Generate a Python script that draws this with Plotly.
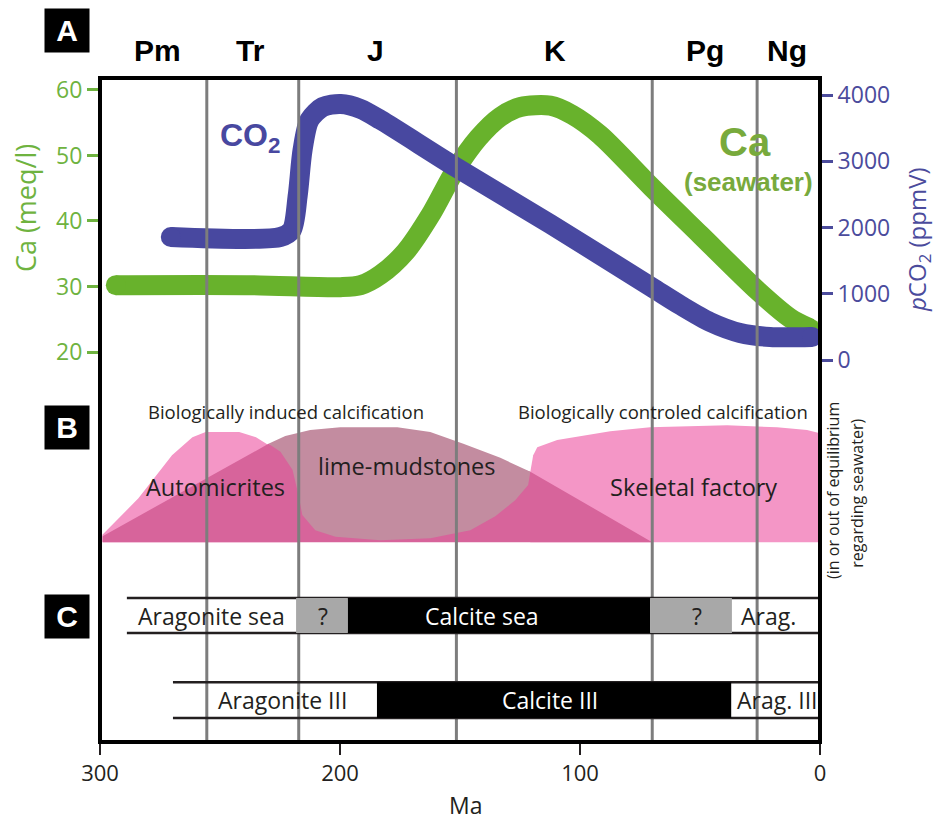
import plotly.graph_objects as go

# ---------------- data ----------------
# geological period boundaries (Ma) and period labels
boundaries_ma = [255.5, 217.2, 151.5, 69.9, 26.2]
period_labels = ["Pm", "Tr", "J", "K", "Pg", "Ng"]
period_label_ma = [276.0, 237.2, 185.2, 110.3, 47.9, 13.7]

# Panel A: seawater Ca (meq/l)
ca_age = [293.4, 237.2, 199.8, 191.4, 183.1, 172.7, 162.3, 151.9, 142.3, 133.2,
          124.8, 112.4, 103.2, 91.6, 70.3, 49.9, 25.8, 12.5, 4.2]
ca_val = [30.2, 30.2, 29.9, 30.2, 31.8, 35.3, 40.9, 47.8, 52.7, 55.9,
          57.4, 57.6, 56.2, 53.1, 45.2, 37.9, 29.3, 25.2, 23.6]

# Panel A: pCO2 (ppmV)
co2_age = [270.5, 224.7, 220.1, 217.6, 215.6, 212.7, 207.2, 199.7, 191.4, 183.1,
           151.9, 112.4, 70.3, 58.3, 45.8, 33.3, 20.8, 3.3]
co2_val = [1857, 1857, 1962, 2490, 3170, 3623, 3819, 3864, 3789, 3623,
           2913, 2053, 1102, 830, 574, 408, 347, 347]

# Panel B: calcification domains (age Ma, relative extent)
auto_age = [299, 299, 284, 270, 261.5, 256, 242, 235, 228, 223.5, 220, 218.5, 217.5, 217.5]
auto_lvl = [30.1, 31.2, 36.7, 43.2, 45.9, 46.7, 46.7, 45.9, 44.3, 41.7, 38.3, 34.2, 30.7, 30.1]

skel_age = [120.7, 120.7, 119.5, 117.8, 109.5, 99.9, 87.4, 70.8, 38.7, 17.9, 5.4, 0, 0]
skel_lvl = [30.1, 40.7, 43.2, 44.4, 45.5, 46.1, 46.8, 47.4, 47.7, 47.4, 47.0, 46.5, 30.1]

induced_age = [298.9, 298.9, 229.8, 220.7, 208.2, 149.9, 120.7, 69.9]
induced_lvl = [30.1, 31.0, 44.9, 43.7, 45.2, 44.0, 40.7, 30.1]

mud_age = [229.8, 222.8, 212.4, 199.9, 176.1, 162.4, 148.6, 133.2, 120.7, 121.6, 127.0,
           135.3, 145.7, 162.4, 183.2, 201.9, 210.3, 215.7, 217.3, 219.8, 224.8]
mud_lvl = [44.9, 46.1, 47.0, 47.4, 47.4, 46.7, 44.9, 42.8, 40.7, 38.7, 36.4,
           34.0, 31.9, 30.7, 30.4, 30.9, 31.9, 34.2, 37.2, 41.0, 43.7]

# Panel C: sea chemistry rows (segment edges in Ma)
sea_edges = [288.8, 218.3, 196.7, 70.8, 36.7, 0]
sea_kind = ["arag", "unknown", "calcite", "unknown", "arag"]
sea_text = ["Aragonite sea", "?", "Calcite sea", "?", "Arag."]
sea_text_ma = [253.5, 207.2, 141.0, 51.2, 21.6]

iii_edges = [269.6, 184.6, 37.0, 0]
iii_kind = ["arag", "calcite", "arag"]
iii_text = ["Aragonite III", "Calcite III", "Arag. III"]
iii_text_ma = [224.0, 112.4, 17.9]

row_levels = {"sea": (16.4, 21.7), "iii": (3.6, 9.0)}

# ---------------- styles ----------------
GREEN = "#68b22c"
GREEN_TXT = "#6fb33f"
GREEN_LBL = "#78aa3c"
BLUE = "#4848a0"
BLUE_TXT = "#4b4b9c"
LIGHT_PINK = "#f496c6"
DARK_PINK = "#d7649b"
MAUVE = "#c38ca0"
GRID_GRAY = "#7d7d7d"
BOX_GRAY = "#a8a8a8"
INK = "#231f20"
SANS = "Open Sans, sans-serif"
BOLD = "Liberation Sans, Arial, sans-serif"

fig = go.Figure()

def poly(xs, ys, color):
    fig.add_trace(go.Scatter(x=xs, y=ys, yaxis="y3", mode="lines", fill="toself",
                             fillcolor=color, line=dict(width=0, color=color),
                             hoverinfo="skip"))

# Panel B shapes
poly(auto_age, auto_lvl, LIGHT_PINK)
poly(skel_age, skel_lvl, LIGHT_PINK)
poly(induced_age, induced_lvl, DARK_PINK)
poly(mud_age, mud_lvl, MAUVE)

# vertical period boundary lines
vx, vy = [], []
for b in boundaries_ma:
    vx += [b, b, None]
    vy += [0, 100, None]
fig.add_trace(go.Scatter(x=vx, y=vy, yaxis="y3", mode="lines",
                         line=dict(color=GRID_GRAY, width=3), hoverinfo="skip"))

# Panel C rows
def row(edges, kinds, lv):
    lo, hi = lv
    fig.add_trace(go.Scatter(x=[edges[0], edges[-1], None, edges[0], edges[-1]],
                             y=[hi, hi, None, lo, lo], yaxis="y3", mode="lines",
                             line=dict(color=INK, width=2.5), hoverinfo="skip"))
    for i, k in enumerate(kinds):
        if k == "arag":
            continue
        c = "#000000" if k == "calcite" else BOX_GRAY
        a, b = edges[i], edges[i + 1]
        fig.add_trace(go.Scatter(x=[a, b, b, a, a], y=[lo, lo, hi, hi, lo], yaxis="y3",
                                 mode="lines", fill="toself", fillcolor=c,
                                 line=dict(width=0, color=c), hoverinfo="skip"))

row(sea_edges, sea_kind, row_levels["sea"])
row(iii_edges, iii_kind, row_levels["iii"])

# Panel A curves
fig.add_trace(go.Scatter(x=ca_age, y=ca_val, mode="lines",
                         line=dict(color=GREEN, width=20, shape="spline", smoothing=0.8),
                         hoverinfo="skip"))
fig.add_trace(go.Scatter(x=[ca_age[0], ca_age[-1]], y=[ca_val[0], ca_val[-1]], mode="markers",
                         marker=dict(color=GREEN, size=20), hoverinfo="skip"))
fig.add_trace(go.Scatter(x=co2_age, y=co2_val, yaxis="y2", mode="lines",
                         line=dict(color=BLUE, width=20, shape="spline", smoothing=0.8),
                         hoverinfo="skip"))
fig.add_trace(go.Scatter(x=[co2_age[0], co2_age[-1]], y=[co2_val[0], co2_val[-1]], yaxis="y2",
                         mode="markers", marker=dict(color=BLUE, size=20), hoverinfo="skip"))

ann = []
def A(**kw):
    kw.setdefault("showarrow", False)
    kw.setdefault("xanchor", "center")
    kw.setdefault("yanchor", "middle")
    ann.append(kw)

# period labels
for lab, m in zip(period_labels, period_label_ma):
    A(x=m, y=1.0407, xref="x", yref="paper", text="<b>%s</b>" % lab,
      font=dict(family=BOLD, size=30, color="#000000"))
# panel letters
for lab, yp in [("A", 1.0708), ("B", 0.4729), ("C", 0.1883)]:
    A(x=-0.0465, y=yp, xref="paper", yref="paper", text="<b>%s</b>" % lab,
      bgcolor="#000000", width=44, height=43, borderpad=0,
      font=dict(family=BOLD, size=30, color="#ffffff"))
# curve labels
A(x=237.3, y=3366, xref="x", yref="y2", text="<b>CO<sub>2</sub></b>",
  font=dict(family=BOLD, size=32, color=BLUE))
A(x=31.2, y=52.06, xref="x", yref="y", text="<b>Ca</b>",
  font=dict(family=BOLD, size=40, color=GREEN_LBL))
A(x=30.0, y=45.95, xref="x", yref="y", text="<b>(seawater)</b>",
  font=dict(family=BOLD, size=26, color=GREEN_LBL))
# axis titles
A(x=-0.104, y=(742 - 208) / 664, xref="paper", yref="paper", text="Ca (meq/l)",
  textangle=-90, font=dict(family=SANS, size=27, color=GREEN_TXT))
A(x=(918 - 100) / 720, y=(742 - 240) / 664, xref="paper", yref="paper",
  text="<i>p</i>CO<sub>2</sub> (ppmV)", textangle=-90,
  font=dict(family=SANS, size=24, color=BLUE_TXT))
A(x=0.508, y=-0.095, xref="paper", yref="paper", text="Ma",
  font=dict(family=SANS, size=23, color=INK))
# panel B texts
A(x=222.5, y=49.7, xref="x", yref="y3", text="Biologically induced calcification",
  font=dict(family=SANS, size=18.5, color=INK))
A(x=65.4, y=49.7, xref="x", yref="y3", text="Biologically controled calcification",
  font=dict(family=SANS, size=18.5, color=INK))
A(x=251.8, y=38.4, xref="x", yref="y3", text="Automicrites",
  font=dict(family=SANS, size=23.5, color=INK))
A(x=172.5, y=41.6, xref="x", yref="y3", text="lime-mudstones",
  font=dict(family=SANS, size=23.5, color=INK))
A(x=52.9, y=38.4, xref="x", yref="y3", text="Skeletal factory",
  font=dict(family=SANS, size=23.5, color=INK))
A(x=1.018, y=0.3795, xref="paper", yref="paper", text="(in or out of equilibrium",
  textangle=-90, font=dict(family=SANS, size=16, color=INK))
A(x=1.051, y=0.375, xref="paper", yref="paper", text="regarding seawater)",
  textangle=-90, font=dict(family=SANS, size=16, color=INK))
# panel C texts
for t, m, k in zip(sea_text, sea_text_ma, sea_kind):
    A(x=m, y=sum(row_levels["sea"]) / 2, xref="x", yref="y3", text=t,
      font=dict(family=SANS, size=23, color="#ffffff" if k == "calcite" else INK))
for t, m, k in zip(iii_text, iii_text_ma, iii_kind):
    A(x=m, y=sum(row_levels["iii"]) / 2, xref="x", yref="y3", text=t,
      font=dict(family=SANS, size=23, color="#ffffff" if k == "calcite" else INK))

fig.update_layout(
    width=935, height=813,
    margin=dict(l=92, r=123, t=70, b=79),
    paper_bgcolor="white", plot_bgcolor="white", showlegend=False,
    font=dict(family=SANS, color=INK),
    xaxis=dict(range=[300, 0], tickvals=[300, 200, 100, 0], ticks="outside", ticklen=12,
               tickwidth=2, tickcolor=INK, showgrid=False, zeroline=False, showline=False,
               tickfont=dict(family=SANS, size=22, color=INK)),
    yaxis=dict(range=[-39.54, 61.83], tickvals=[20, 30, 40, 50, 60], ticks="outside",
               ticklen=12, tickwidth=2.5, tickcolor=GREEN_TXT, showgrid=False, zeroline=False,
               showline=False, tickfont=dict(family=SANS, size=23, color=GREEN_TXT)),
    yaxis2=dict(overlaying="y", side="right", range=[-5766, 4256.6],
                tickvals=[0, 1000, 2000, 3000, 4000], ticks="outside", ticklen=12, tickwidth=2.5,
                tickcolor=BLUE_TXT, showgrid=False, zeroline=False, showline=False,
                tickfont=dict(family=SANS, size=23, color=BLUE_TXT)),
    yaxis3=dict(overlaying="y", range=[0, 100], visible=False),
    annotations=ann,
    shapes=[dict(type="rect", xref="paper", yref="paper", x0=0, x1=1, y0=0, y1=1,
                 line=dict(color="#000000", width=4), layer="above")],
)

fig.write_html("out.html")
